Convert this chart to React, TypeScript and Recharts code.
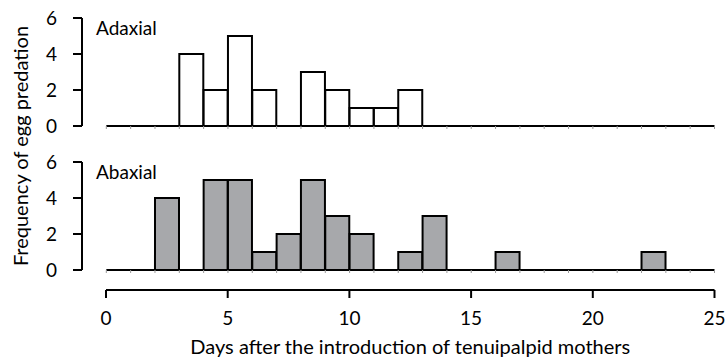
import React from "react";
import { BarChart, Bar, XAxis, YAxis, ReferenceLine } from "recharts";

// Bin midpoints (days after introduction), one-day bins from 0 to 25
const binMids = [0.5, 1.5, 2.5, 3.5, 4.5, 5.5, 6.5, 7.5, 8.5, 9.5, 10.5, 11.5, 12.5, 13.5, 14.5, 15.5, 16.5, 17.5, 18.5, 19.5, 20.5, 21.5, 22.5, 23.5, 24.5];
const adaxial = [0, 0, 0, 4, 2, 5, 2, 0, 3, 2, 1, 1, 2, 0, 0, 0, 0, 0, 0, 0, 0, 0, 0, 0, 0];
const abaxial = [0, 0, 4, 0, 5, 5, 1, 2, 5, 3, 2, 0, 1, 3, 0, 0, 1, 0, 0, 0, 0, 0, 1, 0, 0];
const yTicks = [0, 2, 4, 6];
const xTicks = [0, 5, 10, 15, 20, 25];
const binEdges = [0, 1, 2, 3, 4, 5, 6, 7, 8, 9, 10, 11, 12, 13, 14, 15, 16, 17, 18, 19, 20, 21, 22, 23, 24, 25];

const adaxialData = binMids.map((d, i) => ({ day: d, count: adaxial[i] }));
const abaxialData = binMids.map((d, i) => ({ day: d, count: abaxial[i] }));

const FONT = "Lato, 'Open Sans', sans-serif";
const W = 725;

function Panel({ data, fill, top }: { data: { day: number; count: number }[]; fill: string; top: number }) {
  return (
    <div style={{ position: "absolute", left: 0, top }}>
      <BarChart
        width={W}
        height={140}
        data={data}
        margin={{ top: 18, right: 10.5, left: 0, bottom: 0 }}
        barCategoryGap={0}
        barGap={0}
      >
        <XAxis
          dataKey="day"
          type="number"
          domain={[-1, 25]}
          ticks={binEdges}
          height={14}
          axisLine={false}
          tickLine={{ stroke: "#999", strokeWidth: 1 }}
          tickSize={3}
          tickFormatter={() => ""}
          allowDataOverflow
        />
        <YAxis
          type="number"
          domain={[0, 6]}
          ticks={yTicks}
          width={82}
          axisLine={{ stroke: "#000", strokeWidth: 2 }}
          tickLine={{ stroke: "#000", strokeWidth: 2 }}
          tickSize={9}
          tickMargin={16}
          tick={{ fill: "#000", fontSize: 19, fontFamily: FONT }}
          interval={0}
        />
        <ReferenceLine
          segment={[{ x: 0, y: 0 }, { x: 25, y: 0 }]}
          stroke="#000"
          strokeWidth={2}
        />
        <Bar dataKey="count" fill={fill} stroke="#000" strokeWidth={2} isAnimationActive={false} />
      </BarChart>
    </div>
  );
}

export default function App() {
  return (
    <div style={{ position: "absolute", left: 0, top: 0, width: W, height: 359, background: "#fff", fontFamily: FONT }}>
      <Panel data={adaxialData} fill="#ffffff" top={0} />
      <Panel data={abaxialData} fill="#a7a8ab" top={144} />
      <div style={{ position: "absolute", left: 0, top: 282 }}>
        <BarChart width={W} height={77} data={adaxialData} margin={{ top: 0, right: 10.5, left: 106, bottom: 0 }}>
          <XAxis
            dataKey="day"
            type="number"
            domain={[0, 25]}
            ticks={xTicks}
            height={69}
            axisLine={{ stroke: "#000", strokeWidth: 2 }}
            tickLine={{ stroke: "#000", strokeWidth: 2 }}
            tickSize={8}
            tickMargin={14}
            tick={{ fill: "#000", fontSize: 19, fontFamily: FONT }}
            interval={0}
            label={{
              value: "Days after the introduction of tenuipalpid mothers",
              position: "insideBottom",
              offset: 5,
              fill: "#000",
              fontSize: 20,
              fontFamily: FONT,
            }}
          />
        </BarChart>
      </div>
      <svg width={W} height={359} style={{ position: "absolute", left: 0, top: 0, pointerEvents: "none" }}>
        <text x={96} y={35} fontSize={19} fontFamily={FONT} fill="#000">Adaxial</text>
        <text x={96} y={179} fontSize={19} fontFamily={FONT} fill="#000">Abaxial</text>
        <text
          x={0}
          y={0}
          transform="translate(28,146) rotate(-90)"
          textAnchor="middle"
          fontSize={20}
          fontFamily={FONT}
          fill="#000"
        >
          Frequency of egg predation
        </text>
      </svg>
    </div>
  );
}
